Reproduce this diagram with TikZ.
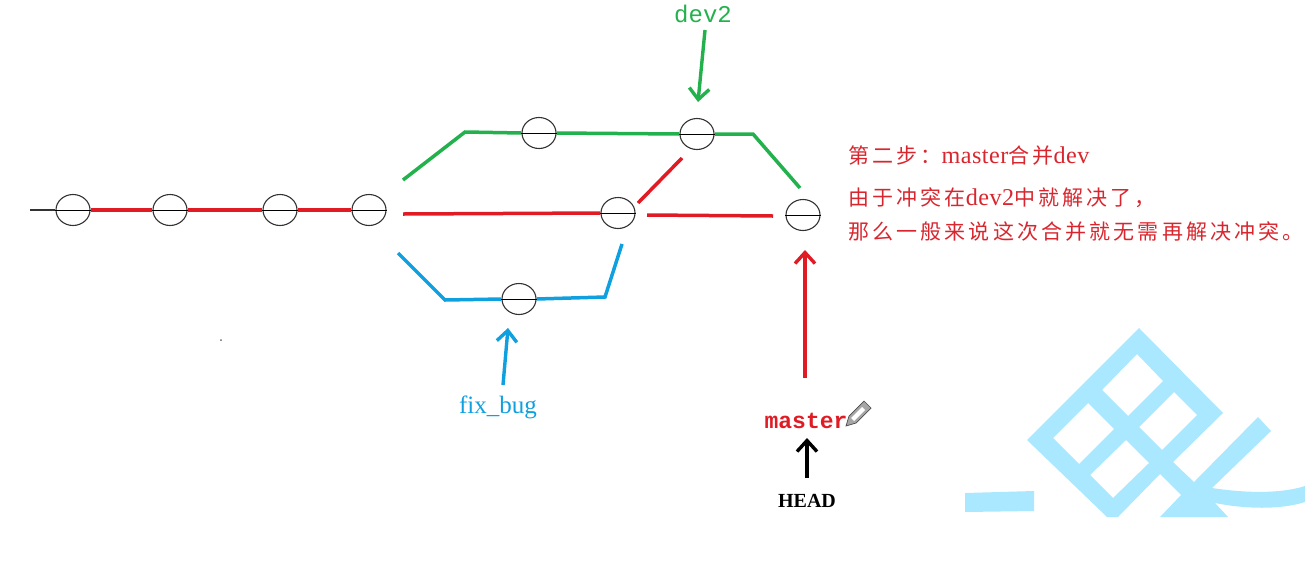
\documentclass[tikz,border=0pt]{standalone}
\usepackage{fontspec}
\usetikzlibrary{arrows.meta,shapes.geometric}
\setmainfont{Liberation Serif}
\setmonofont{Liberation Mono}
\newfontfamily\cjk[LetterSpace=15]{Noto Sans CJK SC}
\newfontfamily\lat[LetterSpace=2,Scale=1.15]{Liberation Serif}
\definecolor{gitred}{HTML}{E01B24}
\definecolor{gitgreen}{HTML}{22B14C}
\definecolor{gitblue}{HTML}{0FA0E0}
\definecolor{notered}{HTML}{D9262E}
\definecolor{markblue}{HTML}{AAE8FF}
\tikzset{
	commit/.style={ellipse,draw=black!80,line width=1.1pt,minimum width=34pt,minimum height=31pt,inner sep=0pt},
	note/.style={anchor=west,inner sep=0pt,text=notered,font=\fontsize{21}{21}\selectfont},
	redline/.style={gitred,line width=3.5pt},
	greenline/.style={gitgreen,line width=3.5pt},
	blueline/.style={gitblue,line width=3.5pt},
	pointer/.style={-{Straight Barb[length=11pt,width=20pt]},line width=3.4pt}
}
\begin{document}
\begin{tikzpicture}[x=1pt,y=-1pt]
	\useasboundingbox (0,0) rectangle (1305,563);

	% watermark
	\fill[markblue,even odd rule] (1139,328) -- (1223,413) -- (1173,462) -- (1194,482) -- (1258,417) -- (1271,431) -- (1212,488)
		.. controls (1245,493) and (1280,494) .. (1305,486) -- (1305,502) .. controls (1280,510) and (1245,509) .. (1215,503)
		-- (1228,517) -- (1160,517) -- (1181,495) -- (1160,474) -- (1118,517) -- (1107,517) -- (1027,440) -- cycle
		(1137,354) -- (1163,381) -- (1128,416) -- (1102,390) -- cycle
		(1174,392) -- (1197,415) -- (1162,450) -- (1139,427) -- cycle
		(1088,403) -- (1114,429) -- (1079,464) -- (1053,438) -- cycle
		(1126,440) -- (1149,463) -- (1113,498) -- (1090,475) -- cycle;
	\fill[markblue] (965,493) -- (1034,491) -- (1034,511) -- (965,512) -- cycle;

	% commits
	\node[commit] (a) at (73,210) {};
	\node[commit] (b) at (170,210) {};
	\node[commit] (c) at (280,210) {};
	\node[commit] (d) at (369,210) {};
	\node[commit] (e) at (539,133) {};
	\node[commit] (f) at (697,134) {};
	\node[commit] (g) at (618,213) {};
	\node[commit] (h) at (803,215) {};
	\node[commit] (k) at (519,299) {};

	\coordinate (start) at (30,210);
	\coordinate (g1) at (403,180);
	\coordinate (g2) at (465,132);
	\coordinate (g3) at (753,134);
	\coordinate (g4) at (800,188);
	\coordinate (r1) at (403,214);
	\coordinate (r2) at (638,203);
	\coordinate (r3) at (682,158);
	\coordinate (r4) at (647,215);
	\coordinate (r5) at (773,216);
	\coordinate (k1) at (398,253);
	\coordinate (k2) at (445,300);
	\coordinate (k3) at (605,297);
	\coordinate (k4) at (622,244);

	% history
	\draw[black!80,line width=1.2pt] (start) -- (a.west);
	\draw[redline] (a.east) -- (b.west);
	\draw[redline] (b.east) -- (c.west);
	\draw[redline] (c.east) -- (d.west);

	\draw[greenline] (g1) -- (g2) -- (e.west);
	\draw[greenline] (e.east) -- (f.west);
	\draw[greenline] (f.east) -- (g3) -- (g4);

	\draw[redline] (r1) -- (g.west);
	\draw[redline] (r2) -- (r3);
	\draw[redline] (r4) -- (r5);

	\draw[blueline] (k1) -- (k2) -- (k.west);
	\draw[blueline] (k.east) -- (k3) -- (k4);

	% line through each commit
	\draw[black,line width=1pt] (a.west) -- (a.east);
	\draw[black,line width=1pt] (b.west) -- (b.east);
	\draw[black,line width=1pt] (c.west) -- (c.east);
	\draw[black,line width=1pt] (d.west) -- (d.east);
	\draw[black,line width=1pt] (e.west) -- (e.east);
	\draw[black,line width=1pt] (f.west) -- (f.east);
	\draw[black,line width=1pt] (g.west) -- (g.east);
	\draw[black,line width=1pt] (h.west) -- (h.east);
	\draw[black,line width=1pt] (k.west) -- (k.east);

	% labels
	\node[text=gitgreen,font=\ttfamily\fontsize{24}{24}\selectfont] (dev) at (703,14) {dev2};
	\node[text=gitblue,font=\fontsize{25}{25}\selectfont] (fix) at (498,407) {fix\_bug};
	\node[text=gitred,font=\ttfamily\bfseries\fontsize{23}{23}\selectfont] (master) at (806,421) {master};
	\node[text=black,font=\bfseries\fontsize{20}{20}\selectfont] (head) at (807,501) {HEAD};

	\coordinate (devtail) at (705,30);
	\coordinate (devtip) at (698,102);
	\coordinate (fixtail) at (503,385);
	\coordinate (fixtip) at (508,328);
	\coordinate (mastertail) at (805,378);
	\coordinate (mastertip) at (805,250);
	\coordinate (headtail) at (807,478);
	\coordinate (headtip) at (807,438);

	\draw[pointer,gitgreen] (devtail) -- (devtip);
	\draw[pointer,gitblue] (fixtail) -- (fixtip);
	\draw[pointer,gitred] (mastertail) -- (mastertip);
	\draw[pointer,black] (headtail) -- (headtip);

	% pencil
	\fill[black!35,draw=black!70,line width=0.7pt] (846,426) -- (849,416) -- (864,401) -- (871,408) -- (856,423) -- cycle;
	\fill[white] (851,418) -- (862,407) -- (865,410) -- (854,421) -- cycle;

	% speck
	\fill[black!60] (221,340) circle (1pt);

	% note
	\node[note] (step) at (848,156) {\cjk 第二步：\lat master\cjk 合并\lat dev};
	\node[note] (why) at (848,198) {\cjk 由于冲突在\lat dev2\cjk 中就解决了，};
	\node[note] (then) at (848,232) {\cjk 那么一般来说这次合并就无需再解决冲突。};
\end{tikzpicture}
\end{document}
